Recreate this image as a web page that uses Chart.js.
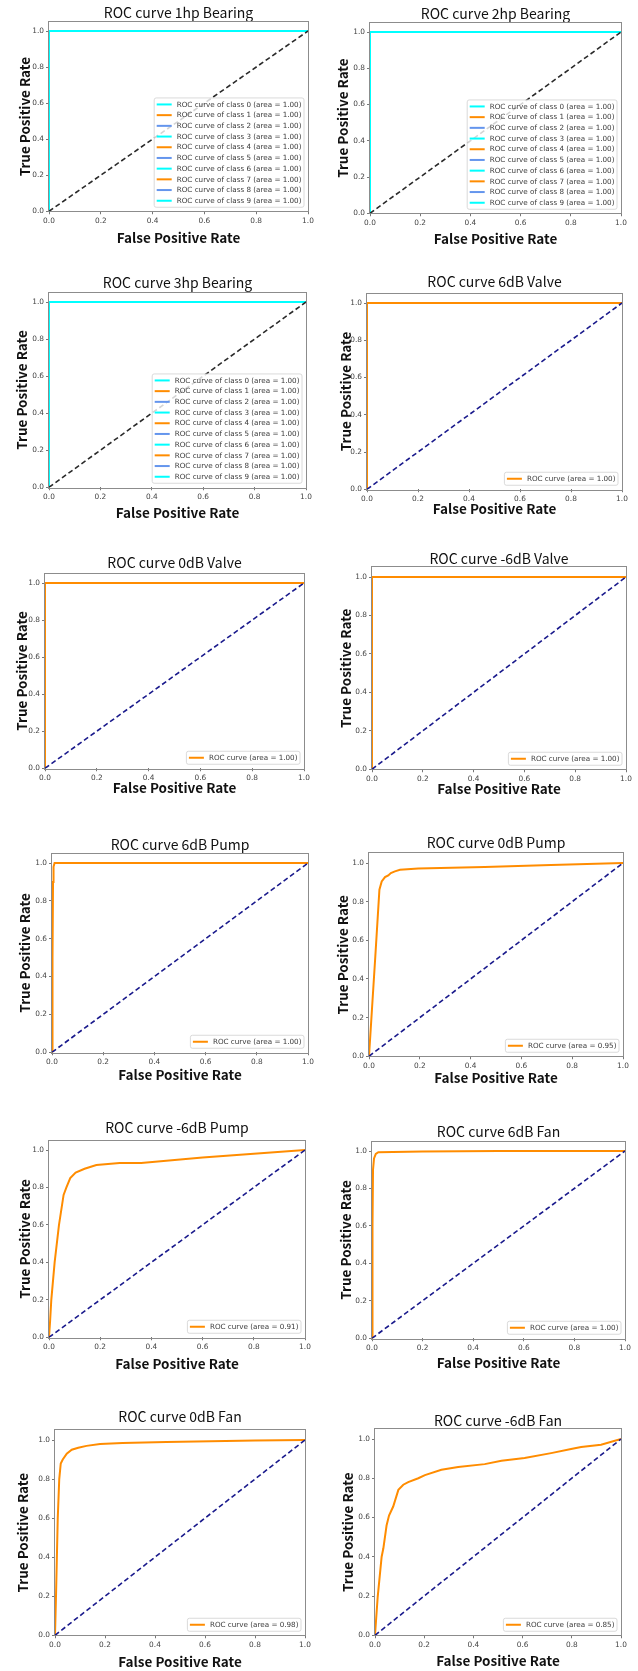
<!DOCTYPE html>
<html><head><meta charset="utf-8">
<script src="https://cdn.jsdelivr.net/npm/chart.js@4.4.0/dist/chart.umd.min.js"></script>
<style>
html,body{margin:0;padding:0;background:#fff;}
body{width:638px;height:1671px;position:relative;overflow:hidden;}
canvas{position:absolute;}
</style></head><body>
<script>
// ---------- DATA ----------
const xTickValues = [0, 0.2, 0.4, 0.6, 0.8, 1.0];
const yTickValues = [0, 0.2, 0.4, 0.6, 0.8, 1.0];
const diagFpr = [0, 1];
const diagTpr = [0, 1];

const bearingClasses = [0, 1, 2, 3, 4, 5, 6, 7, 8, 9];
const bearingClassColors = ['#00FFFF', '#FF8C00', '#6495ED'];
const bearingClassFpr = [0, 0, 1];
const bearingClassTpr = [0, 1, 1];
const bearing1hpAreas = [1.00, 1.00, 1.00, 1.00, 1.00, 1.00, 1.00, 1.00, 1.00, 1.00];
const bearing2hpAreas = [1.00, 1.00, 1.00, 1.00, 1.00, 1.00, 1.00, 1.00, 1.00, 1.00];
const bearing3hpAreas = [1.00, 1.00, 1.00, 1.00, 1.00, 1.00, 1.00, 1.00, 1.00, 1.00];

const valve6Fpr = [0, 0, 1];
const valve6Tpr = [0, 1, 1];
const valve0Fpr = [0, 0, 1];
const valve0Tpr = [0, 1, 1];
const valveM6Fpr = [0, 0, 1];
const valveM6Tpr = [0, 1, 1];

const pump6Fpr = [0, 0.002, 0.004, 0.006, 0.01, 1];
const pump6Tpr = [0, 0.5, 0.9, 0.98, 1.0, 1.0];
const pump0Fpr = [0, 0.012, 0.025, 0.041, 0.05, 0.063, 0.076, 0.086, 0.102, 0.122, 0.194, 0.455, 0.717, 1];
const pump0Tpr = [0, 0.25, 0.52, 0.862, 0.905, 0.927, 0.936, 0.948, 0.957, 0.965, 0.971, 0.979, 0.99, 1];
const pumpM6Fpr = [0, 0.004, 0.009, 0.022, 0.039, 0.057, 0.068, 0.083, 0.104, 0.139, 0.185, 0.276, 0.36, 0.6, 1];
const pumpM6Tpr = [0, 0.08, 0.2, 0.4, 0.6, 0.76, 0.8, 0.85, 0.88, 0.9, 0.92, 0.93, 0.93, 0.96, 1];

const fan6Fpr = [0, 0.002, 0.004, 0.008, 0.015, 0.025, 0.2, 0.5, 1];
const fan6Tpr = [0, 0.6, 0.9, 0.96, 0.985, 0.994, 0.997, 1, 1];
const fan0Fpr = [0, 0.004, 0.011, 0.017, 0.023, 0.031, 0.047, 0.067, 0.093, 0.126, 0.18, 0.27, 0.446, 0.8, 1];
const fan0Tpr = [0, 0.2, 0.6, 0.8, 0.88, 0.9, 0.93, 0.95, 0.96, 0.97, 0.98, 0.985, 0.99, 0.997, 1];
const fanM6Fpr = [0, 0.011, 0.027, 0.034, 0.047, 0.057, 0.074, 0.095, 0.115, 0.135, 0.176, 0.203, 0.27, 0.338, 0.446, 0.514, 0.608, 0.716, 0.797, 0.838, 0.919, 1];
const fanM6Tpr = [0, 0.196, 0.40, 0.443, 0.559, 0.61, 0.656, 0.741, 0.767, 0.78, 0.80, 0.816, 0.843, 0.857, 0.872, 0.889, 0.903, 0.928, 0.949, 0.959, 0.971, 1];

const singleAreas = {valve6: 1.00, valve0: 1.00, valveM6: 1.00, pump6: 1.00, pump0: 0.95, pumpM6: 0.91, fan6: 1.00, fan0: 0.98, fanM6: 0.85};

const xLabelText = 'False Positive Rate';
const yLabelText = 'True Positive Rate';

// ---------- LAYOUT (pixel geometry of each panel) ----------
const panels = [
 {title:'ROC curve 1hp Bearing', bearing:bearing1hpAreas, L:49,R:308,Y1:31,Y0:211,titleY:13,xlabY:238,ylabX:25},
 {title:'ROC curve 2hp Bearing', bearing:bearing2hpAreas, L:370,R:621,Y1:32,Y0:213,titleY:14,xlabY:239,ylabX:343},
 {title:'ROC curve 3hp Bearing', bearing:bearing3hpAreas, L:49,R:306,Y1:302,Y0:487,titleY:283,xlabY:513,ylabX:22},
 {title:'ROC curve 6dB Valve', fpr:valve6Fpr, tpr:valve6Tpr, area:singleAreas.valve6, L:367,R:622,Y1:303,Y0:489,titleY:282,xlabY:509,ylabX:346},
 {title:'ROC curve 0dB Valve', fpr:valve0Fpr, tpr:valve0Tpr, area:singleAreas.valve0, L:45,R:304,Y1:583,Y0:768,titleY:563,xlabY:788,ylabX:22},
 {title:'ROC curve -6dB Valve', fpr:valveM6Fpr, tpr:valveM6Tpr, area:singleAreas.valveM6, L:372,R:626,Y1:577,Y0:769,titleY:559,xlabY:789,ylabX:346},
 {title:'ROC curve 6dB Pump', fpr:pump6Fpr, tpr:pump6Tpr, area:singleAreas.pump6, L:52,R:308,Y1:863,Y0:1052,titleY:845,xlabY:1075,ylabX:25},
 {title:'ROC curve 0dB Pump', fpr:pump0Fpr, tpr:pump0Tpr, area:singleAreas.pump0, L:369,R:623,Y1:863,Y0:1056,titleY:843,xlabY:1078,ylabX:343},
 {title:'ROC curve -6dB Pump', fpr:pumpM6Fpr, tpr:pumpM6Tpr, area:singleAreas.pumpM6, L:49,R:305,Y1:1150,Y0:1337,titleY:1128,xlabY:1364,ylabX:25},
 {title:'ROC curve 6dB Fan', fpr:fan6Fpr, tpr:fan6Tpr, area:singleAreas.fan6, L:372,R:625,Y1:1151,Y0:1338,titleY:1132,xlabY:1363,ylabX:346},
 {title:'ROC curve 0dB Fan', fpr:fan0Fpr, tpr:fan0Tpr, area:singleAreas.fan0, L:55,R:305,Y1:1440,Y0:1635,titleY:1417,xlabY:1662,ylabX:23},
 {title:'ROC curve -6dB Fan', fpr:fanM6Fpr, tpr:fanM6Tpr, area:singleAreas.fanM6, L:375,R:621,Y1:1439,Y0:1635,titleY:1421,xlabY:1661,ylabX:348},
];

const TITLE_FONT = 14, LABEL_FONT = 13.5, TICK_FONT = 7.4, LEG_FONT = 7.2, PR = 14;

const framePlugin = {
  id: 'frame',
  beforeDatasetsDraw(chart) {
    const {ctx, chartArea: a} = chart;
    ctx.save();
    ctx.strokeStyle = '#8c8c8c';
    ctx.lineWidth = 1;
    ctx.strokeRect(Math.round(a.left) - 0.5, Math.round(a.top) - 0.5, Math.round(a.right - a.left) + 1, Math.round(a.bottom - a.top) + 1);
    ctx.restore();
  }
};

const legendPlugin = {
  id: 'insideLegend',
  afterDatasetsDraw(chart, args, opts) {
    const items = opts.items || [];
    if (!items.length) return;
    const {ctx, chartArea: a} = chart;
    ctx.save();
    ctx.font = LEG_FONT + 'px "DejaVu Sans"';
    const textW = Math.max(...items.map(it => ctx.measureText(it.label).width));
    const pad = 2.5, handle = 15, gap = 5, row = 10.7, textH = 8;
    const w = pad + handle + gap + textW + pad;
    const h = (items.length - 1) * row + textH + 2 * pad;
    const x = a.right - 4 - w, y = a.bottom - 4 - h;
    ctx.beginPath();
    if (ctx.roundRect) ctx.roundRect(x, y, w, h, 2); else ctx.rect(x, y, w, h);
    ctx.fillStyle = 'rgba(255,255,255,0.8)';
    ctx.fill();
    ctx.strokeStyle = '#d0d0d0';
    ctx.lineWidth = 0.8;
    ctx.stroke();
    items.forEach((it, i) => {
      const cy = y + pad + textH / 2 + i * row;
      ctx.beginPath();
      ctx.moveTo(x + pad, cy);
      ctx.lineTo(x + pad + handle, cy);
      ctx.strokeStyle = it.color;
      ctx.lineWidth = 2;
      ctx.stroke();
      ctx.fillStyle = '#3a3a3a';
      ctx.textBaseline = 'middle';
      ctx.textAlign = 'left';
      ctx.fillText(it.label, x + pad + handle + gap, cy + 0.3);
    });
    ctx.restore();
  }
};

function pts(xs, ys) { return xs.map((x, i) => ({x: x, y: ys[i]})); }

panels.forEach((p) => {
  const T = p.Y0 - 1.05 * (p.Y0 - p.Y1);
  const canvasTop = Math.round(p.titleY - 2 - TITLE_FONT / 2);
  const titlePadBottom = Math.max(0, T - canvasTop - 2 - TITLE_FONT);
  const XH = p.xlabY - p.Y0 + LABEL_FONT / 2 + 2;
  const canvasLeft = Math.round(p.ylabX - LABEL_FONT / 2 - 1);
  const YW = p.L - canvasLeft;
  const W = Math.round(p.R - canvasLeft + PR);
  const H = Math.round(p.Y0 + XH - canvasTop);

  const cv = document.createElement('canvas');
  cv.width = W; cv.height = H;
  cv.style.left = canvasLeft + 'px';
  cv.style.top = canvasTop + 'px';
  cv.style.width = W + 'px';
  cv.style.height = H + 'px';
  document.body.appendChild(cv);

  const datasets = [];
  const legendItems = [];
  if (p.bearing) {
    bearingClasses.forEach((c, i) => {
      const col = bearingClassColors[i % 3];
      datasets.push({label: 'ROC curve of class ' + c + ' (area = ' + p.bearing[i].toFixed(2) + ')',
        data: pts(bearingClassFpr, bearingClassTpr), borderColor: col, borderWidth: 2, order: 10 - i});
      legendItems.push({label: 'ROC curve of class ' + c + ' (area = ' + p.bearing[i].toFixed(2) + ')', color: col});
    });
    datasets.push({label: 'diag', data: pts(diagFpr, diagTpr), borderColor: '#2a2a2a', borderWidth: 1.6, borderDash: [5, 3], order: -1});
  } else {
    datasets.push({label: 'ROC curve (area = ' + p.area.toFixed(2) + ')', data: pts(p.fpr, p.tpr), borderColor: '#FF8C00', borderWidth: 2, order: 1});
    legendItems.push({label: 'ROC curve (area = ' + p.area.toFixed(2) + ')', color: '#FF8C00'});
    datasets.push({label: 'diag', data: pts(diagFpr, diagTpr), borderColor: '#1a1a8c', borderWidth: 1.6, borderDash: [5, 3], order: 0});
  }

  const tickCommon = {font: {family: '"DejaVu Sans"', size: TICK_FONT}, color: '#444'};
  new Chart(cv, {
    type: 'scatter',
    data: {datasets: datasets},
    options: {
      responsive: false, animation: false, devicePixelRatio: 1,
      layout: {padding: {left: 0, right: PR, top: 0, bottom: 0}},
      elements: {point: {radius: 0, hoverRadius: 0}, line: {tension: 0, fill: false}},
      datasets: {scatter: {showLine: true}},
      plugins: {
        legend: {display: false},
        tooltip: {enabled: false},
        title: {display: true, text: p.title, fullSize: false, color: '#111',
          font: {family: '"Noto Sans CJK KR"', size: TITLE_FONT, weight: '400', lineHeight: 1},
          padding: {top: 2, bottom: titlePadBottom}},
        insideLegend: {items: legendItems}
      },
      scales: {
        x: {type: 'linear', position: 'bottom', min: 0, max: 1,
          afterBuildTicks: (s) => { s.ticks = xTickValues.map(v => ({value: v})); },
          afterFit: (s) => { s.height = XH; s.paddingLeft = 0; s.paddingRight = 0; },
          ticks: Object.assign({maxRotation: 0, autoSkip: false, padding: 2, callback: (v) => Number(v).toFixed(1)}, tickCommon),
          grid: {display: true, drawOnChartArea: false, drawTicks: true, tickLength: 3, tickColor: '#777'},
          border: {display: false},
          title: {display: true, text: xLabelText, color: '#111', padding: {top: 0, bottom: 2},
            font: {family: '"Noto Sans CJK KR"', size: LABEL_FONT, weight: 'bold', lineHeight: 1}}
        },
        y: {type: 'linear', position: 'left', min: 0, max: 1.05,
          afterBuildTicks: (s) => { s.ticks = yTickValues.map(v => ({value: v})); },
          afterFit: (s) => { s.width = YW; s.paddingTop = 0; s.paddingBottom = 0; },
          ticks: Object.assign({autoSkip: false, padding: 2, callback: (v) => Number(v).toFixed(1)}, tickCommon),
          grid: {display: true, drawOnChartArea: false, drawTicks: true, tickLength: 3, tickColor: '#777'},
          border: {display: false},
          title: {display: true, text: yLabelText, color: '#111', padding: {top: 1, bottom: 0},
            font: {family: '"Noto Sans CJK KR"', size: LABEL_FONT, weight: 'bold', lineHeight: 1}}
        }
      }
    },
    plugins: [framePlugin, legendPlugin]
  });
});
</script></body></html>
